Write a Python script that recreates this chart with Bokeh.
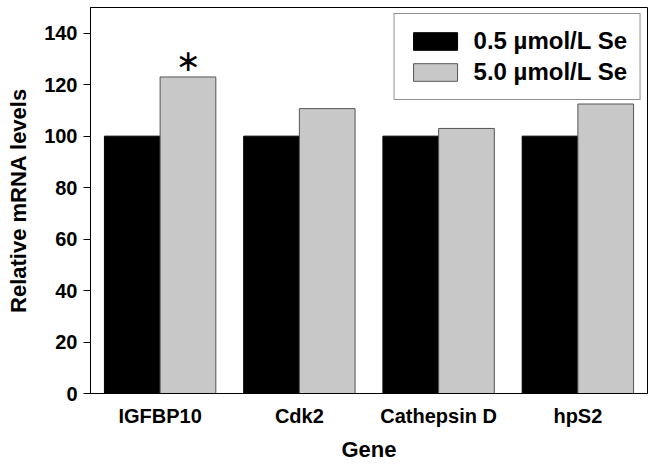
from bokeh.plotting import figure
from bokeh.models import ColumnDataSource, FactorRange, Range1d, Legend, LegendItem
from bokeh.transform import dodge
from bokeh.core.properties import value
from bokeh.embed import file_html
from bokeh.resources import INLINE

genes = ["IGFBP10", "Cdk2", "Cathepsin D", "hpS2"]
low_se = [100, 100, 100, 100]
high_se = [123, 110.7, 103, 112.5]
significance = ["\u2217", "", "", ""]
series_names = ["0.5 \u00b5mol/L Se", "5.0 \u00b5mol/L Se"]
y_ticks = [0, 20, 40, 60, 80, 100, 120, 140]

FONT = "Liberation Sans"

src = ColumnDataSource(dict(gene=genes, low=low_se, high=high_se, sig=significance))

p = figure(
    x_range=FactorRange(*genes, range_padding=0),
    y_range=Range1d(0, 150),
    width=654, height=464,
    output_backend="svg", toolbar_location=None,
    min_border_left=90, min_border_right=7, min_border_top=7, min_border_bottom=71,
)

r1 = p.vbar(x=dodge("gene", -0.2, range=p.x_range), top="low", width=0.4, source=src,
            fill_color="black", line_color="black", line_width=1)
r2 = p.vbar(x=dodge("gene", 0.2, range=p.x_range), top="high", width=0.4, source=src,
            fill_color="#c8c8c8", line_color="#555555", line_width=1)

p.text(x=dodge("gene", 0.2, range=p.x_range), y="high", text="sig", source=src,
       text_font=value("DejaVu Sans"), text_font_size="30px", text_align="center",
       text_baseline="middle", y_offset=-16, text_color="black")

legend = Legend(items=[LegendItem(label=series_names[0], renderers=[r1]),
                       LegendItem(label=series_names[1], renderers=[r2])],
                location="top_right")
legend.label_text_font = FONT
legend.label_text_font_style = "bold"
legend.label_text_font_size = "24px"
legend.label_text_color = "black"
legend.glyph_width = 55
legend.glyph_height = 22
legend.label_standoff = 11
legend.spacing = 3
legend.padding = 13
legend.margin = 6
legend.border_line_color = "#222222"
legend.border_line_width = 1
legend.background_fill_alpha = 1
p.add_layout(legend)

p.xgrid.visible = False
p.ygrid.visible = False
p.outline_line_color = "black"
p.outline_line_width = 1

p.yaxis.ticker = y_ticks
p.yaxis.axis_label = "Relative mRNA levels"
p.xaxis.axis_label = "Gene"
for ax in (p.xaxis[0], p.yaxis[0]):
    ax.major_label_text_font = FONT
    ax.major_label_text_font_style = "bold"
    ax.major_label_text_font_size = "20px"
    ax.major_label_text_color = "black"
    ax.axis_label_text_font = FONT
    ax.axis_label_text_font_style = "bold"
    ax.axis_label_text_font_size = "22px"
    ax.axis_label_text_color = "black"
    ax.axis_line_color = "black"
    ax.minor_tick_line_color = None

p.yaxis.major_tick_out = 7
p.yaxis.major_tick_in = 0
p.yaxis.major_label_standoff = 6
p.yaxis.axis_label_standoff = 10
p.xaxis.major_tick_line_color = None
p.xaxis.major_tick_out = 0
p.xaxis.major_tick_in = 0
p.xaxis.major_label_standoff = 11
p.xaxis.axis_label_standoff = 7

open("out.html", "w").write(file_html(p, INLINE))
